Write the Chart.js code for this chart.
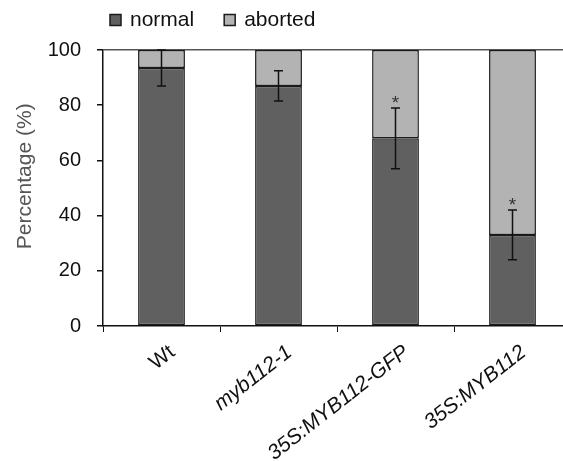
<!DOCTYPE html>
<html>
<head>
<meta charset="utf-8">
<script src="https://cdn.jsdelivr.net/npm/chart.js@4"></script>
<style>
  html, body { margin: 0; padding: 0; overflow: hidden; background: #fff; }
  #wrap { width: 580px; height: 461px; }
</style>
</head>
<body>
<div id="wrap"><canvas id="abortChart"></canvas></div>
<script>
const lines = ['Wt', 'myb112-1', '35S:MYB112-GFP', '35S:MYB112'];
const normalPct = [93.5, 87, 68, 33];
const abortedPct = [6.5, 13, 32, 67];
const errNormal = [6.5, 5.5, 11, 9];
const signif = ['', '', '*', '*'];
const yTicks = [0, 20, 40, 60, 80, 100];

const FONT = "'Liberation Sans', Arial, sans-serif";

// barras de error + asteriscos sobre la serie "normal"
const errorBars = {
    id: 'errorBars',
    afterDatasetsDraw(chart) {
        const { ctx, scales: { y } } = chart;
        const meta = chart.getDatasetMeta(0);
        ctx.save();
        ctx.strokeStyle = '#111';
        ctx.lineWidth = 1.5;
        meta.data.forEach((bar, i) => {
            const top = y.getPixelForValue(normalPct[i] + errNormal[i]);
            const bot = y.getPixelForValue(normalPct[i] - errNormal[i]);
            const x = bar.x;
            ctx.beginPath();
            ctx.moveTo(x, top); ctx.lineTo(x, bot);
            ctx.moveTo(x - 4.5, top); ctx.lineTo(x + 4.5, top);
            ctx.moveTo(x - 4.5, bot); ctx.lineTo(x + 4.5, bot);
            ctx.stroke();
            if (signif[i]) {
                ctx.fillStyle = '#333';
                ctx.font = '19px ' + FONT;
                ctx.textAlign = 'center';
                ctx.textBaseline = 'alphabetic';
                ctx.fillText(signif[i], x, top + 1);
            }
        });
        ctx.restore();
    }
};

// leyenda arriba a la izquierda (la del plugin no deja ajustar bien el hueco)
const topLegend = {
    id: 'topLegend',
    afterDraw(chart) {
        const ctx = chart.ctx;
        let x = 110;
        const yMid = 20;
        ctx.save();
        ctx.font = '21px ' + FONT;
        ctx.textBaseline = 'middle';
        ctx.textAlign = 'left';
        chart.data.datasets.forEach(ds => {
            ctx.fillStyle = ds.backgroundColor;
            ctx.fillRect(x, yMid - 5.5, 11, 11);
            ctx.strokeStyle = '#1a1a1a';
            ctx.lineWidth = 1.5;
            ctx.strokeRect(x, yMid - 5.5, 11, 11);
            ctx.fillStyle = '#111';
            ctx.fillText(ds.label, x + 20, yMid);
            x += 20 + ctx.measureText(ds.label).width + 30;
        });
        ctx.restore();
    }
};

const ctx = document.getElementById('abortChart').getContext('2d');
new Chart(ctx, {
    type: 'bar',
    data: {
        labels: lines,
        datasets: [{
            label: 'normal',
            data: normalPct,
            backgroundColor: '#606060',
            borderColor: '#1a1a1a',
            borderWidth: 1.5,
            borderSkipped: false
        }, {
            label: 'aborted',
            data: abortedPct,
            backgroundColor: '#b3b3b3',
            borderColor: '#1a1a1a',
            borderWidth: 1.5,
            borderSkipped: false
        }]
    },
    options: {
        responsive: true,
        maintainAspectRatio: false,
        animation: false,
        layout: { padding: { top: 50, right: 9, left: 0, bottom: 0 } },
        datasets: { bar: { categoryPercentage: 1, barPercentage: 0.4 } },
        plugins: {
            tooltip: { enabled: false },
            legend: { display: false }
        },
        scales: {
            x: {
                stacked: true,
                afterFit: (s) => { s.height = 135; },
                border: { color: '#111', width: 1.5 },
                grid: { drawOnChartArea: false, tickLength: 6, tickColor: '#111', offset: true },
                ticks: {
                    autoSkip: false,
                    minRotation: 38,
                    maxRotation: 38,
                    labelOffset: 11,
                    padding: 8,
                    color: '#111',
                    font: (c) => ({ family: FONT, size: 21, style: c.index === 0 ? 'normal' : 'italic' })
                }
            },
            y: {
                stacked: true,
                min: 0,
                max: 100,
                afterFit: (s) => { s.width = 103; },
                afterBuildTicks: (s) => { s.ticks = yTicks.map(v => ({ value: v })); },
                border: { color: '#111', width: 1.5 },
                grid: {
                    color: (c) => c.tick && c.tick.value === 100 ? '#555' : 'rgba(0,0,0,0)',
                    lineWidth: 1.5,
                    tickLength: 6,
                    tickColor: '#111'
                },
                ticks: { padding: 16, color: '#111', font: { family: FONT, size: 20 } },
                title: {
                    display: true,
                    text: '\u00a0\u00a0\u00a0\u00a0Percentage (%)',
                    color: '#555',
                    padding: { top: 13, bottom: 0 },
                    font: { family: FONT, size: 21 }
                }
            }
        }
    },
    plugins: [errorBars, topLegend]
});
</script>
</body>
</html>
